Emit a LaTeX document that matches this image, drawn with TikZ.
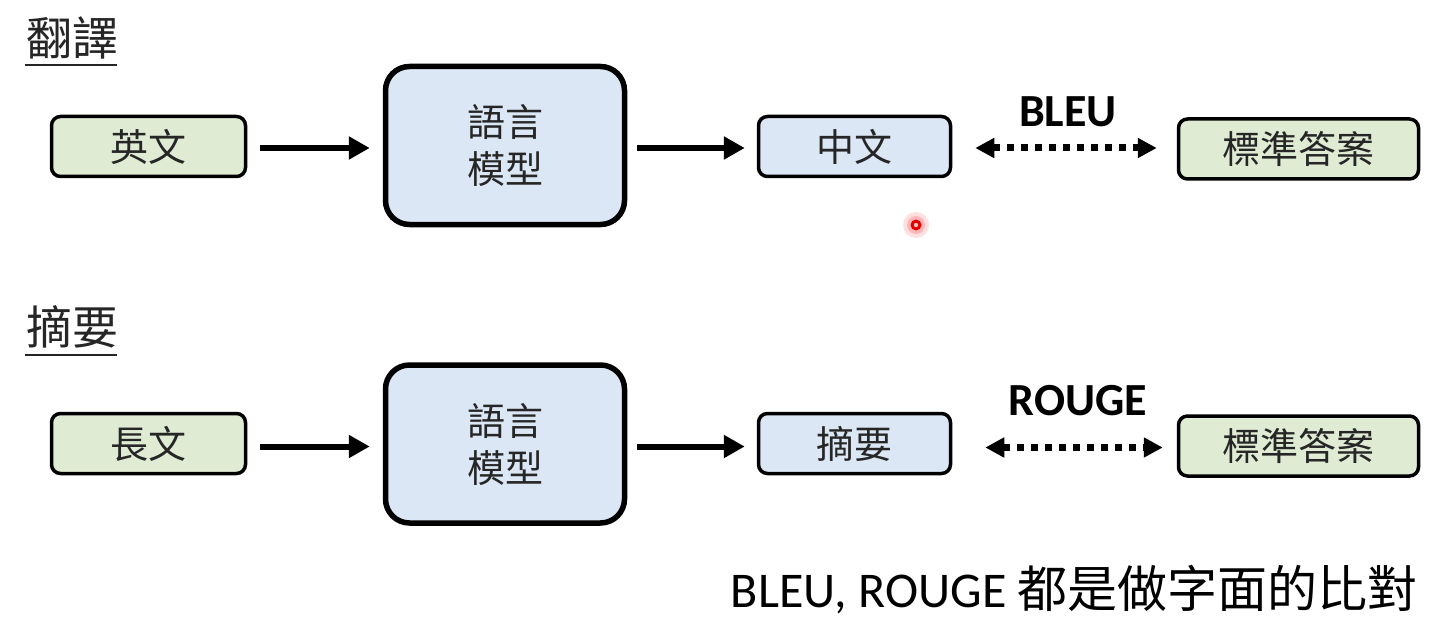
\documentclass[tikz,border=0pt]{standalone}
\usepackage{fontspec}
\setmainfont{Carlito}
\newfontfamily\cjk{Noto Sans CJK TC}
\usetikzlibrary{arrows.meta}
\definecolor{gfill}{HTML}{E0EBD4}
\definecolor{bfill}{HTML}{DBE7F5}
\definecolor{txt}{HTML}{262626}
\tikzset{
  smallbox/.style={draw=black, line width=3.5pt, rounded corners=9pt, minimum height=60pt,
    inner sep=0pt, text=txt, font=\cjk\fontsize{38}{47}\selectfont},
  greenbox/.style={smallbox, fill=gfill},
  bluebox/.style={smallbox, fill=bfill},
  modelbox/.style={draw=black, line width=5.5pt, rounded corners=24pt, fill=bfill,
    minimum width=239pt, minimum height=158pt, inner sep=0pt, align=center, text=txt,
    font=\cjk\fontsize{38}{47}\selectfont},
  flow/.style={line width=6pt, -{Triangle[length=21pt,width=22pt]}},
  metric/.style={line width=7pt, dash pattern=on 7pt off 7pt,
    {Triangle[length=19pt,width=19pt]}-{Triangle[length=19pt,width=19pt]}},
  title/.style={inner sep=0pt, text=txt, font=\cjk\fontsize{46}{50}\selectfont},
  uline/.style={line width=2pt, draw=txt},
  metriclabel/.style={inner sep=0pt, font=\bfseries\fontsize{46}{50}\selectfont},
  note/.style={inner sep=0pt, anchor=base east, font=\fontsize{50}{55}\selectfont}
}
\begin{document}
\begin{tikzpicture}[x=1pt,y=-1pt]
\useasboundingbox (0,0) rectangle (1437,631);
\fill[white] (0,0) rectangle (1437,631);

% ---- row 1 : translation
\node[title] (t1) at (72.5,38) {翻譯};
\draw[uline] (25,65) -- (117,65);

\node[greenbox, minimum width=194pt] (en) at (148.5,146.5) {英文};
\node[modelbox] (m1) at (505,145.5) {語言\\模型};
\node[bluebox, minimum width=192pt] (zh) at (854.5,146.5) {中文};
\node[greenbox, minimum width=240pt] (ref1) at (1298.5,149) {標準答案};
\node[metriclabel] (bleu) at (1068,112) {BLEU};

\draw[flow, shorten <=13pt, shorten >=13pt] (en.east) ++(0,1.5) coordinate (e1) (e1) -- (e1 -| m1.west);
\draw[flow, shorten <=10pt, shorten >=12pt] (m1.east |- e1) -- (e1 -| zh.west);
\draw[metric, shorten <=23pt, shorten >=20pt] (zh.east) ++(0,1.5) coordinate (z1) (z1) -- (z1 -| ref1.west);

% ---- row 2 : summarization
\node[title] (t2) at (72.5,327) {摘要};
\draw[uline] (25,355) -- (117,355);

\node[greenbox, minimum width=194pt] (long) at (148.5,443.5) {長文};
\node[modelbox] (m2) at (505,444) {語言\\模型};
\node[bluebox, minimum width=192pt] (sum) at (854.5,443.5) {摘要};
\node[greenbox, minimum width=240pt] (ref2) at (1298.5,446) {標準答案};
\node[metriclabel] (rouge) at (1078,401) {ROUGE};

\draw[flow, shorten <=13pt, shorten >=13pt] (long.east) ++(0,3) coordinate (l1) (l1) -- (l1 -| m2.west);
\draw[flow, shorten <=10pt, shorten >=12pt] (m2.east |- l1) -- (l1 -| sum.west);
\draw[metric, shorten <=33pt, shorten >=14pt] (sum.east) ++(0,4) coordinate (s1) (s1) -- (s1 -| ref2.west);

% ---- note
\node[note] (nt) at (1418,607) {BLEU, ROUGE {\cjk 都是做字面的比對}};

% ---- laser pointer dot
\fill[red, opacity=0.12] (916,225) circle (13);
\fill[red, opacity=0.18] (916,225) circle (9);
\fill[red!90!black] (916,225) circle (5.5);
\fill[red!25] (916,225) circle (2.2);
\end{tikzpicture}
\end{document}
